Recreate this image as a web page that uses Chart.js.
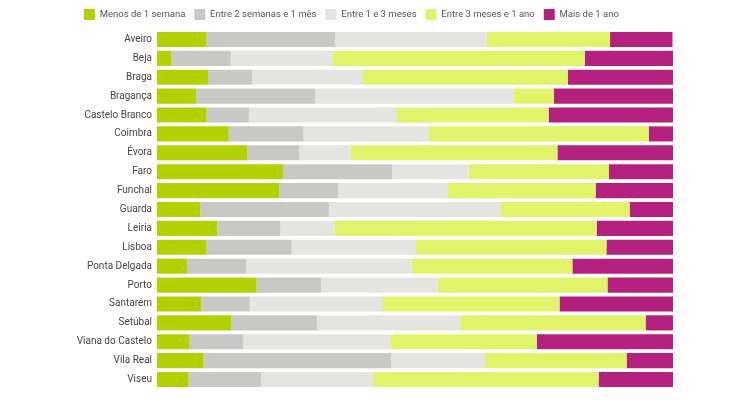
<!DOCTYPE html>
<html>
<head>
<meta charset="utf-8">
<script src="https://cdn.jsdelivr.net/npm/chart.js@4"></script>
<style>
  html, body { margin: 0; padding: 0; background: #fff; }
  #wrap { width: 750px; height: 400px; }
</style>
</head>
<body>
<div id="wrap"><canvas id="chart"></canvas></div>
<script>
const districts = ["Aveiro", "Beja", "Braga", "Bragança", "Castelo Branco", "Coimbra", "Évora", "Faro", "Funchal", "Guarda", "Leiria", "Lisboa", "Ponta Delgada", "Porto", "Santarém", "Setúbal", "Viana do Castelo", "Vila Real", "Viseu"];

const menos1Semana   = [9.6, 2.8, 9.9, 7.6, 9.6, 13.9, 17.5, 24.4, 23.7, 8.4, 11.7, 9.6, 5.8, 19.3, 8.6, 14.4, 6.3, 9.0, 6.1];
const entre2Sem1Mes  = [24.9, 11.5, 8.5, 23.1, 8.2, 14.5, 10.1, 21.2, 11.4, 24.9, 12.2, 16.5, 11.5, 12.5, 9.4, 16.6, 10.4, 36.4, 14.1];
const entre1e3Meses  = [29.4, 19.8, 21.5, 38.4, 28.7, 24.3, 9.9, 14.8, 21.3, 33.3, 10.5, 24.1, 32.0, 22.6, 25.8, 27.8, 28.5, 18.2, 21.7];
const entre3Meses1Ano = [23.9, 48.8, 39.7, 7.8, 29.4, 42.6, 40.1, 27.2, 28.6, 25.0, 50.8, 36.9, 31.2, 32.9, 34.2, 35.9, 28.4, 27.4, 43.7];
const mais1Ano       = [12.1, 17.1, 20.4, 23.1, 24.1, 4.7, 22.4, 12.4, 15.0, 8.4, 14.8, 12.9, 19.5, 12.7, 22.0, 5.3, 26.4, 9.0, 14.4];

const seriesNames = ["Menos de 1 semana", "Entre 2 semanas e 1 mês", "Entre 1 e 3 meses", "Entre 3 meses e 1 ano", "Mais de 1 ano"];
const seriesColors = ["#b3d100", "#c8c8c5", "#e4e4e1", "#e1f36b", "#b3207e"];
const seriesData = [menos1Semana, entre2Sem1Mes, entre1e3Meses, entre3Meses1Ano, mais1Ano];

const datasets = seriesNames.map((name, i) => ({
  label: name,
  data: seriesData[i],
  backgroundColor: seriesColors[i],
  borderWidth: 0,
  barPercentage: 1,
  categoryPercentage: 0.8
}));

new Chart(document.getElementById("chart"), {
  type: "bar",
  data: { labels: districts, datasets: datasets },
  options: {
    indexAxis: "y",
    responsive: true,
    maintainAspectRatio: false,
    animation: false,
    layout: { padding: { left: 75, right: 77, top: 0, bottom: 5 } },
    plugins: {
      legend: {
        position: "top",
        align: "start",
        labels: {
          boxWidth: 11,
          boxHeight: 11,
          padding: 9,
          color: "#555",
          font: { family: "Roboto", size: 9.5 }
        }
      },
      tooltip: { enabled: false }
    },
    scales: {
      x: {
        stacked: true,
        min: 0,
        max: 100,
        display: false
      },
      y: {
        stacked: true,
        grid: { display: false, drawTicks: false },
        border: { display: false },
        ticks: {
          color: "#444",
          padding: 5,
          font: { family: "Roboto", size: 10 }
        },
        afterFit: s => { s.width = 82; }
      }
    }
  }
});
</script>
</body>
</html>
